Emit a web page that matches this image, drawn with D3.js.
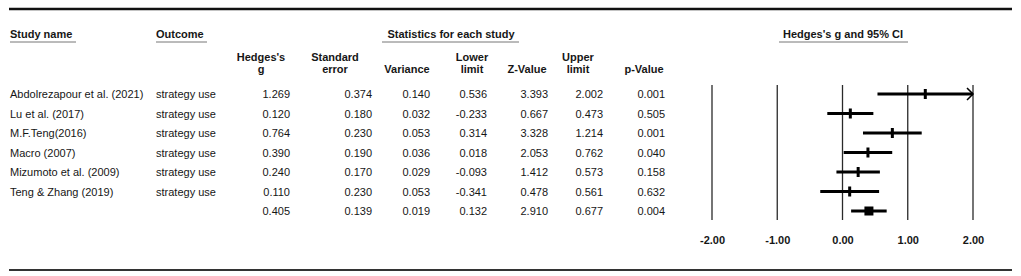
<!DOCTYPE html>
<html><head><meta charset="utf-8">
<script src="https://cdn.jsdelivr.net/npm/d3@7"></script>
<style>
html,body{margin:0;padding:0;background:#fff;}
svg{display:block;font-family:"Liberation Sans",Arial,sans-serif;}
</style></head>
<body>
<svg id="chart" width="1021" height="276"></svg>
<script>
const studies = ["Abdolrezapour et al. (2021)","Lu et al. (2017)","M.F.Teng(2016)","Macro (2007)","Mizumoto et al. (2009)","Teng & Zhang (2019)",""];
const outcomes = ["strategy use","strategy use","strategy use","strategy use","strategy use","strategy use",""];
const hedgesG = [1.269,0.120,0.764,0.390,0.240,0.110,0.405];
const stdErr = [0.374,0.180,0.230,0.190,0.170,0.230,0.139];
const variance = [0.140,0.032,0.053,0.036,0.029,0.053,0.019];
const lowerLimit = [0.536,-0.233,0.314,0.018,-0.093,-0.341,0.132];
const zValue = [3.393,0.667,3.328,2.053,1.412,0.478,2.910];
const upperLimit = [2.002,0.473,1.214,0.762,0.573,0.561,0.677];
const pValue = [0.001,0.505,0.001,0.040,0.158,0.632,0.004];
const xTicks = [-2,-1,0,1,2];
const summaryIndex = 6;

const svg = d3.select("#chart");
const ink = "#161616";
const fs = 11;

// rules
svg.append("line").attr("x1",9).attr("x2",1012).attr("y1",9).attr("y2",9).attr("stroke","#111").attr("stroke-width",2.5);
svg.append("line").attr("x1",9).attr("x2",1012).attr("y1",270).attr("y2",270).attr("stroke","#333").attr("stroke-width",2);

// group headers with underline
function hdr(text,x,anchor,y,ulx1,ulx2){
  svg.append("text").attr("x",x).attr("y",y).attr("text-anchor",anchor)
    .attr("font-size",fs).attr("font-weight","bold").attr("fill",ink).text(text);
  svg.append("line").attr("x1",ulx1).attr("x2",ulx2).attr("y1",y+4).attr("y2",y+4).attr("stroke","#777").attr("stroke-width",1);
}
hdr("Study name",10,"start",38,10,76);
hdr("Outcome",156,"start",38,156,207);
hdr("Statistics for each study",451,"middle",38,382,519);
hdr("Hedges's g and 95% CI",843,"middle",38,779,908);

// column definitions
const cols = [
  {h:["Hedges's","g"], c:261, r:290, v:hedgesG},
  {h:["Standard","error"], c:335, r:372, v:stdErr},
  {h:["","Variance"], c:407, r:430, v:variance},
  {h:["Lower","limit"], c:472, r:487, v:lowerLimit},
  {h:["","Z-Value"], c:527, r:548, v:zValue},
  {h:["Upper","limit"], c:578, r:603, v:upperLimit},
  {h:["","p-Value"], c:644, r:665, v:pValue}
];
const fmt3 = d3.format(".3f");
const fmt = d => fmt3(d).replace("\u2212","-");

const y = d3.scalePoint().domain(d3.range(studies.length)).range([94,211]);

cols.forEach(col=>{
  col.h.forEach((t,i)=>{
    if(!t) return;
    svg.append("text").attr("x",col.c).attr("y",61+i*12).attr("text-anchor","middle")
      .attr("font-size",fs).attr("font-weight","bold").attr("fill",ink).text(t);
  });
  svg.append("g").selectAll("text").data(col.v).join("text")
    .attr("x",col.r).attr("y",(d,i)=>y(i)+4).attr("text-anchor","end")
    .attr("font-size",fs).attr("fill",ink).text(d=>fmt(d));
});

svg.append("g").selectAll("text").data(studies).join("text")
  .attr("x",10).attr("y",(d,i)=>y(i)+4).attr("font-size",fs).attr("fill",ink).text(d=>d);
svg.append("g").selectAll("text").data(outcomes).join("text")
  .attr("x",156).attr("y",(d,i)=>y(i)+4).attr("font-size",fs).attr("fill",ink).text(d=>d);

// forest plot
const x = d3.scaleLinear().domain([-2,2]).range([712,973]);
const fmt2 = d3.format(".2f");
const axis = d3.axisBottom(x).tickValues(xTicks).tickFormat(d=>fmt2(d).replace("\u2212","-")).tickSize(0).tickPadding(0);
const ag = svg.append("g").attr("transform","translate(0,244)").call(axis);
ag.select(".domain").remove();
ag.selectAll("text").attr("font-size",fs).attr("font-weight","bold").attr("fill",ink)
  .attr("font-family","Liberation Sans,Arial,sans-serif").attr("dy","0");

svg.append("g").selectAll("line").data(xTicks).join("line")
  .attr("x1",d=>x(d)).attr("x2",d=>x(d)).attr("y1",85).attr("y2",220)
  .attr("stroke","#2a2a2a").attr("stroke-width",1.3);

const clip = v=>Math.max(-2,Math.min(2,v));
const rows = d3.range(studies.length);
svg.append("g").selectAll("line").data(rows).join("line")
  .attr("x1",i=>x(clip(lowerLimit[i]))).attr("x2",i=>x(clip(upperLimit[i])))
  .attr("y1",i=>y(i)).attr("y2",i=>y(i)).attr("stroke","#000").attr("stroke-width",3);

// arrows for truncated CIs
rows.filter(i=>upperLimit[i]>2).forEach(i=>{
  svg.append("path").attr("d",`M${x(2)-6},${y(i)-6}L${x(2)},${y(i)}L${x(2)-6},${y(i)+6}`)
    .attr("fill","none").attr("stroke","#000").attr("stroke-width",1.5);
});

// point markers
svg.append("g").selectAll("rect").data(rows.filter(i=>i!==summaryIndex)).join("rect")
  .attr("x",i=>x(hedgesG[i])-1.5).attr("y",i=>y(i)-5).attr("width",3).attr("height",10).attr("fill","#000");
svg.append("rect").attr("x",x(hedgesG[summaryIndex])-4.5).attr("y",y(summaryIndex)-4.5)
  .attr("width",9).attr("height",9).attr("fill","#000");
</script>
</body></html>
